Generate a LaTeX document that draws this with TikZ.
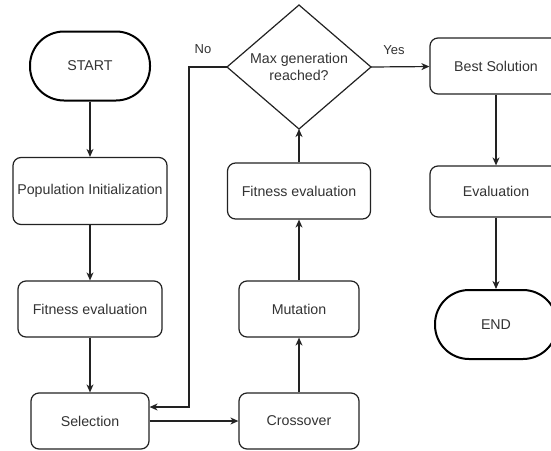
\documentclass[tikz,border=0pt]{standalone}
\usepackage{fontspec}
\setmainfont{Liberation Sans}
\usetikzlibrary{arrows.meta,calc}
\definecolor{ink}{HTML}{333333}
\definecolor{lineink}{HTML}{222222}
\begin{document}
\begin{tikzpicture}[x=1pt,y=-1pt,
  every node/.style={font=\fontsize{14.2}{17}\selectfont, text=ink, inner sep=0pt, align=center},
  proc/.style={draw=lineink, line width=1.2pt, rounded corners=8pt},
  term/.style={draw=black, line width=2pt, rounded corners=34pt, minimum width=120pt, minimum height=69pt},
  dec/.style={draw=lineink, line width=1.2pt},
  conn/.style={draw=lineink, line width=1.2pt, -{Stealth[length=8pt,width=7pt,inset=2.5pt]}},
  lab/.style={font=\fontsize{13}{15}\selectfont}
]
\useasboundingbox (0,0) rectangle (551,450);
\fill[white] (0,0) rectangle (551,450);

\node[term] (start) at (90,66) {START};
\node[proc, minimum width=154pt, minimum height=67pt] (pop) at (90,191) {Population Initialization};
\node[proc, minimum width=144pt, minimum height=56pt] (fit1) at (90,309) {Fitness evaluation};
\node[proc, minimum width=118pt, minimum height=56pt] (sel) at (90,421) {Selection};
\node[proc, minimum width=120pt, minimum height=56pt] (cross) at (299,421) {Crossover};
\node[proc, minimum width=120pt, minimum height=56pt] (mut) at (299,309) {Mutation};
\node[proc, minimum width=143pt, minimum height=56pt] (fit2) at (299,191) {Fitness evaluation};
\draw[dec] (299,5) -- (371,67) -- (299,129) -- (227,67) -- cycle;
\coordinate (diaW) at (227,67);
\coordinate (diaE) at (371,67);
\coordinate (diaS) at (299,129);
\node (diat) at (299,67) {Max generation\\reached?};
\node[proc, minimum width=132pt, minimum height=56pt] (best) at (496,66) {Best Solution};
\node[proc, minimum width=132pt, minimum height=51pt] (eval) at (496,191.5) {Evaluation};
\node[term, minimum width=122pt] (end) at (496,324.5) {END};

\node[lab] (no) at (203,49) {No};
\node[lab] (yes) at (394,50) {Yes};

\draw[conn] (start) -- (pop);
\draw[conn] (pop) -- (fit1);
\draw[conn] (fit1) -- (sel);
\draw[conn] (sel) -- (cross);
\draw[conn] (cross) -- (mut);
\draw[conn] (mut) -- (fit2);
\draw[conn] (fit2) -- (diaS);
\coordinate (noturn) at (189,67);
\draw[conn] (diaW) -- (noturn) |- ([yshift=14pt]sel.east);
\draw[conn] (diaE) -- (best);
\draw[conn] (best) -- (eval);
\draw[conn] (eval) -- (end);
\end{tikzpicture}
\end{document}
